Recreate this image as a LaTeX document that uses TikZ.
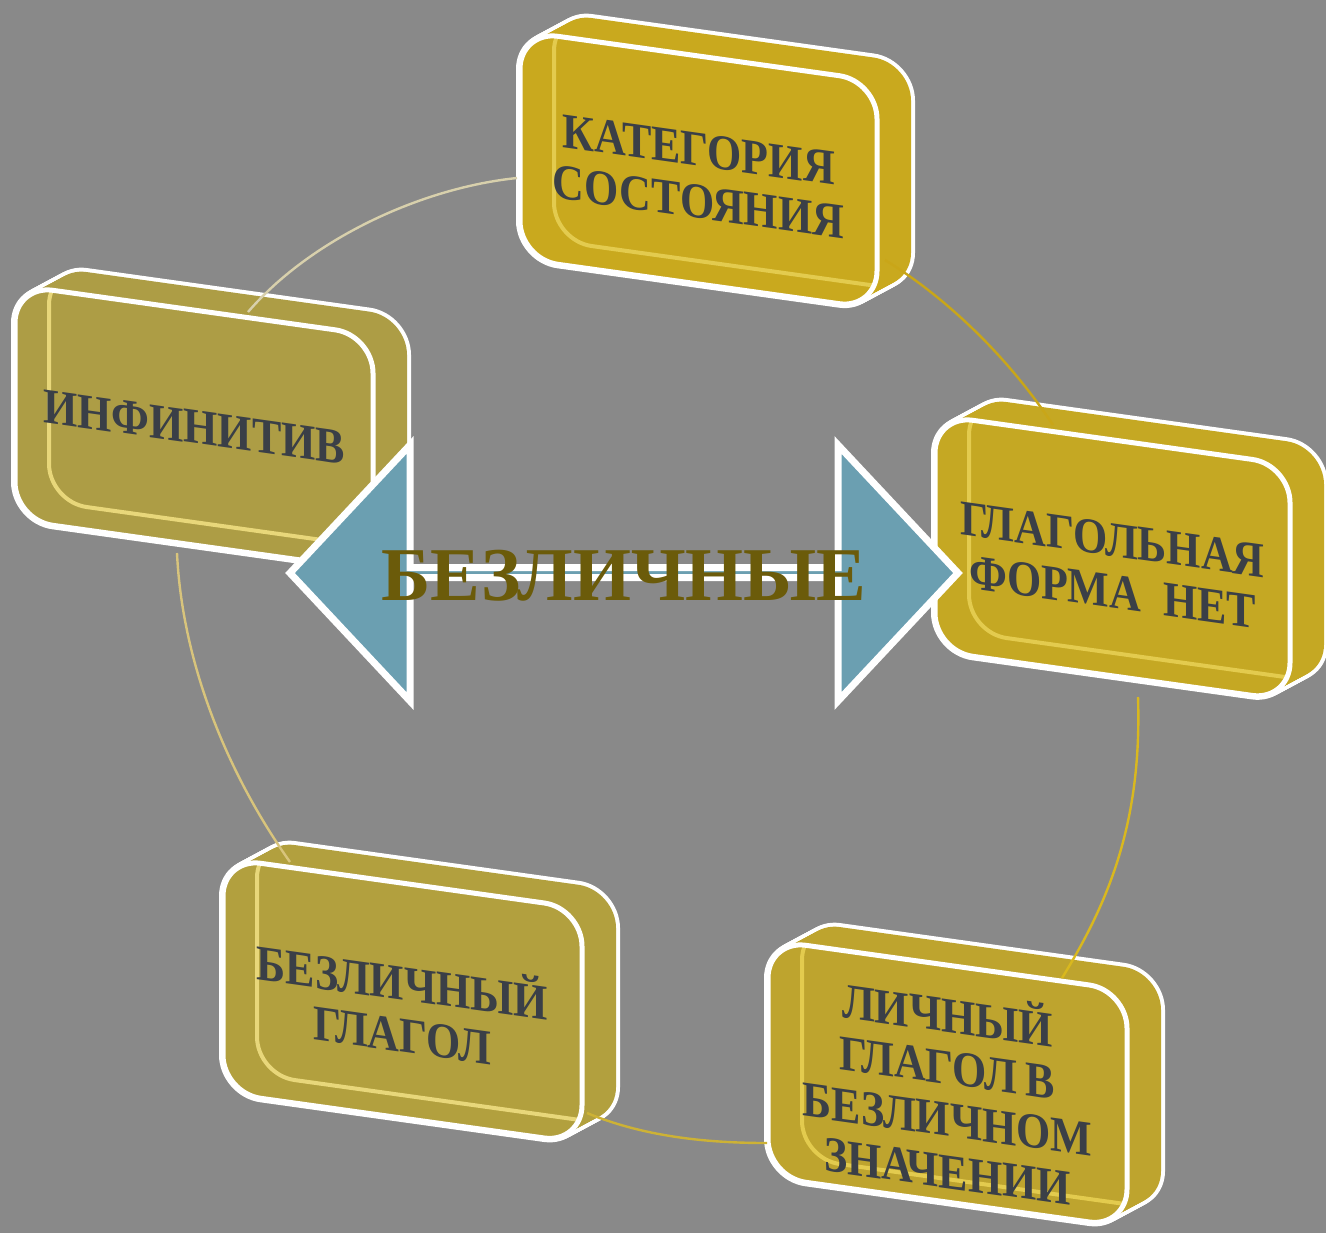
\documentclass[tikz,border=0pt]{standalone}
\usepackage{fontspec}
\setmainfont{Liberation Serif}
\newfontfamily\boxfont{Liberation Serif}[FakeStretch=0.88]
\newfontfamily\midfont{Liberation Serif}[FakeStretch=0.98]
\usetikzlibrary{calc}
\definecolor{bgcol}{HTML}{898989}
\definecolor{txtcol}{HTML}{3A3F47}
\definecolor{midtxt}{HTML}{6B5B0A}
\definecolor{arrowblue}{HTML}{6B9FB1}
\definecolor{goldA}{HTML}{C9A91E}
\definecolor{goldB}{HTML}{AD9D45}
\definecolor{goldC}{HTML}{C5A823}
\definecolor{goldD}{HTML}{B2A03E}
\definecolor{goldE}{HTML}{BEA42E}
\definecolor{paleA}{HTML}{E3CB4E}
\definecolor{paleB}{HTML}{E8D77A}
\definecolor{arcA}{HTML}{D8D0AC}
\definecolor{arcB}{HTML}{D8C47C}
\definecolor{arcC}{HTML}{CDB235}
\definecolor{arcD}{HTML}{D9B81E}
\definecolor{arcE}{HTML}{C9A618}
\tikzset{
  boxtext/.style={text=txtcol, align=center, inner sep=0pt, transform shape,
    font=\boxfont\bfseries\fontsize{25}{26}\selectfont},
  rim/.style={draw=white, line width=2.5pt, rounded corners=19pt},
  sweeprim/.style={draw=white, line width=4pt, rounded corners=19pt},
  arcline/.style={line width=1.2pt},
}
\newcommand{\goldbox}[9]{%
  \begin{scope}[shift={(#2,#3)}, yslant=-0.14]
    \foreach \i in {0,...,20} {\draw[sweeprim] (1.7*\i,-1.15*\i) rectangle ++(#4,#5);}
    \foreach \i in {0,...,20} {\fill[#6, rounded corners=19pt] (1.7*\i,-1.15*\i) rectangle ++(#4,#5);}
    \begin{scope}
      \clip[rounded corners=19pt] (0,0) rectangle (#4,#5);
      \draw[draw=#9, line width=2pt, rounded corners=19pt] (34,-23) rectangle ++(#4,#5);
    \end{scope}
    \draw[rim] (0,0) rectangle (#4,#5);
    \node[boxtext] (#1) at (#4/2,#7) {#8};
  \end{scope}}
\begin{document}
\begin{tikzpicture}[x=0.5pt, y=-0.5pt]
  \useasboundingbox (0,0) rectangle (1326,1233);
  \fill[bgcol] (0,0) rectangle (1326,1233);

  % boxes
  \goldbox{cat}{520}{31}{357}{228}{goldA}{120}{КАТЕГОРИЯ\\СОСТОЯНИЯ}{paleA}
  \goldbox{inf}{15}{285}{358}{235}{goldB}{117}{ИНФИНИТИВ}{paleB}
  \goldbox{glag}{935}{415}{355}{236}{goldC}{126}{ГЛАГОЛЬНАЯ\\ФОРМА\ \ НЕТ}{paleA}
  \goldbox{bezl}{223}{858}{359}{235}{goldD}{122}{БЕЗЛИЧНЫЙ\\ГЛАГОЛ}{paleB}
  \goldbox{lich}{768}{940}{359}{237}{goldE}{124}{ЛИЧНЫЙ\\ГЛАГОЛ\,В\\БЕЗЛИЧНОМ\\ЗНАЧЕНИИ}{paleA}

  % cycle arcs
  \coordinate (s1a) at (517,178); \coordinate (s1b) at (248,312);
  \coordinate (s2a) at (177,553); \coordinate (s2b) at (290,862);
  \coordinate (s3a) at (587,1113); \coordinate (s3b) at (767,1143);
  \coordinate (s4a) at (1138,697); \coordinate (s4b) at (1062,978);
  \coordinate (s5a) at (885,260); \coordinate (s5b) at (1053,425);
  \draw[arcline, arcA] (s1a) .. controls (420,188) and (310,240) .. (s1b);
  \draw[arcline, arcB] (s2a) .. controls (182,660) and (225,770) .. (s2b);
  \draw[arcline, arcC] (s3a) .. controls (640,1135) and (700,1143) .. (s3b);
  \draw[arcline, arcD] (s4a) .. controls (1142,820) and (1110,900) .. (s4b);
  \draw[arcline, arcE] (s5a) .. controls (950,300) and (1010,360) .. (s5b);

  % double arrow
  \coordinate (ltip) at (290,573);
  \coordinate (rtip) at (958,573);
  \draw[fill=arrowblue, draw=white, line width=3.5pt, line join=miter]
    (ltip) -- (410,445) -- (410,567.5) -- (838,567.5) -- (838,445) -- (rtip)
    -- (838,701) -- (838,577.5) -- (410,577.5) -- (410,701) -- cycle;

  \node[text=midtxt, inner sep=0pt, font=\midfont\bfseries\fontsize{38}{38}\selectfont]
    (center) at (624,576) {БЕЗЛИЧНЫЕ};
\end{tikzpicture}
\end{document}
